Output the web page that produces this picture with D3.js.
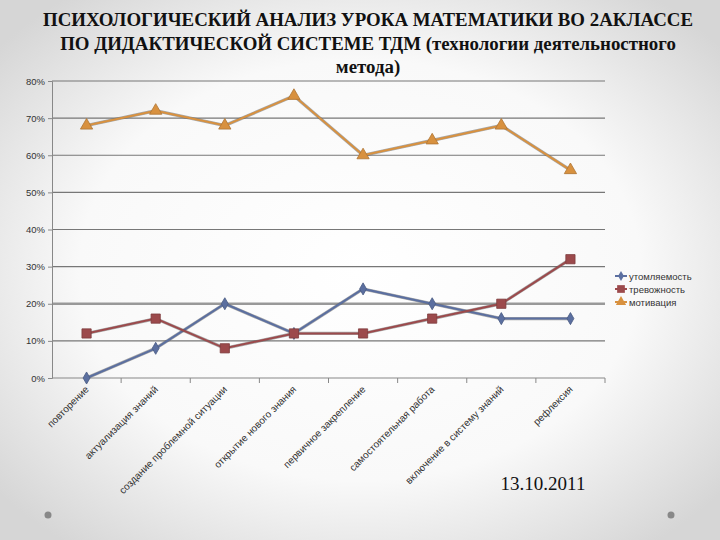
<!DOCTYPE html>
<html>
<head>
<meta charset="utf-8">
<script src="https://cdn.jsdelivr.net/npm/d3@7"></script>
<style>
  body { margin: 0; }
  svg { display: block; }
  .serif { font-family: "Liberation Serif", "DejaVu Serif", "Noto Serif", serif; }
  .sans { font-family: "Liberation Sans", Arial, sans-serif; }
</style>
</head>
<body>
<div id="chart"></div>
<script>
// data
var categories = ["повторение", "актуализация знаний", "создание проблемной ситуации",
                  "открытие нового знания", "первичное закрепление", "самостоятельная работа",
                  "включение в систему знаний", "рефлексия"];
var seriesNames = ["утомляемость", "тревожность", "мотивация"];
var fatigue = [0, 8, 20, 12, 24, 20, 16, 16];
var anxiety = [12, 16, 8, 12, 12, 16, 20, 32];
var motivation = [68, 72, 68, 76, 60, 64, 68, 56];
var yTicks = [0, 10, 20, 30, 40, 50, 60, 70, 80];
var titleLines = ["ПСИХОЛОГИЧЕСКИЙ АНАЛИЗ УРОКА МАТЕМАТИКИ ВО 2АКЛАССЕ",
                  "ПО ДИДАКТИЧЕСКОЙ СИСТЕМЕ ТДМ (технологии деятельностного",
                  "метода)"];

var W = 720, H = 540;
var margin = {top: 81, left: 52, right: 115, bottom: 162};

var svg = d3.select("#chart").append("svg")
    .attr("width", W).attr("height", H);

// slide background: white centre fading to grey at edges
var defs = svg.append("defs");
var grad = defs.append("radialGradient").attr("id", "bg")
    .attr("cx", "50%").attr("cy", "50%").attr("r", "65%");
grad.append("stop").attr("offset", "0%").attr("stop-color", "#ffffff");
grad.append("stop").attr("offset", "60%").attr("stop-color", "#f9f9f9");
grad.append("stop").attr("offset", "100%").attr("stop-color", "#d6d6d6");
svg.append("rect").attr("width", W).attr("height", H).attr("fill", "url(#bg)");

// title, first line scaled to span about 650px
var title = svg.append("text")
    .attr("class", "serif")
    .attr("text-anchor", "middle")
    .style("font-weight", "bold")
    .style("font-size", "18px")
    .attr("fill", "#111");
var t0 = title.append("tspan").attr("x", 368).attr("y", 26).text(titleLines[0]);
var fs = 18 * 650 / t0.node().getComputedTextLength();
title.style("font-size", fs + "px");
title.append("tspan").attr("x", 368).attr("y", 50).text(titleLines[1]);
title.append("tspan").attr("x", 368).attr("y", 73).text(titleLines[2]);

var width = W - margin.left - margin.right;
var height = H - margin.top - margin.bottom;

var g = svg.append("g").attr("transform", "translate(" + margin.left + "," + margin.top + ")");

var x = d3.scaleBand().domain(categories).range([0, width]);
var y = d3.scaleLinear().domain([0, 80]).range([height, 0]);

// gridlines
g.selectAll(".grid").data(yTicks.slice(1)).enter().append("line")
    .attr("class", "grid")
    .attr("x1", 0).attr("x2", width)
    .attr("y1", function(d) { return y(d); })
    .attr("y2", function(d) { return y(d); })
    .attr("stroke", function(d) { return d == 20 ? "#999" : "#777"; })
    .attr("stroke-width", function(d) { return d == 20 ? 2.5 : 1.2; });

// y axis
var yAxis = g.append("g")
    .call(d3.axisLeft(y).tickValues(yTicks).tickSize(4).tickFormat(function(d) { return d + "%"; }));
yAxis.select(".domain").attr("stroke", "#888");
yAxis.selectAll(".tick line").attr("stroke", "#888");
yAxis.selectAll("text")
    .attr("class", "sans")
    .style("font-size", "9.5px")
    .attr("fill", "#333");

// x axis with ticks at category boundaries
var xAxis = g.append("g").attr("transform", "translate(0," + height + ")");
xAxis.append("line").attr("x1", 0).attr("x2", width).attr("stroke", "#888").attr("stroke-width", 1.2);
xAxis.selectAll(".xt").data(categories).enter().append("line")
    .attr("class", "xt")
    .attr("x1", function(d) { return x(d) + x.bandwidth(); })
    .attr("x2", function(d) { return x(d) + x.bandwidth(); })
    .attr("y1", 0).attr("y2", 5).attr("stroke", "#888");
xAxis.selectAll(".xl").data(categories).enter().append("text")
    .attr("class", "xl sans")
    .attr("transform", function(d) {
        return "translate(" + (x(d) + x.bandwidth() / 2 + 3) + ",12) rotate(-45)";
    })
    .attr("text-anchor", "end")
    .style("font-size", "10px")
    .attr("fill", "#333")
    .text(function(d) { return d; });

var colors = ["#5b6fa0", "#9c4a4c", "#d8913f"];
var allSeries = [fatigue, anxiety, motivation];
var symbols = [d3.symbolDiamond, d3.symbolSquare, d3.symbolTriangle];
var sizes = [42, 85, 65];

var line = d3.line()
    .x(function(d, i) { return x(categories[i]) + x.bandwidth() / 2; })
    .y(function(d) { return y(d); });

allSeries.forEach(function(values, s) {
    g.append("path")
        .datum(values)
        .attr("d", line)
        .attr("fill", "none")
        .attr("stroke", "#555")
        .attr("stroke-opacity", 0.5)
        .attr("stroke-width", 3.2);
    g.append("path")
        .datum(values)
        .attr("d", line)
        .attr("fill", "none")
        .attr("stroke", colors[s])
        .attr("stroke-width", 2);
    g.selectAll(".m" + s).data(values).enter().append("path")
        .attr("class", "m" + s)
        .attr("transform", function(d, i) {
            return "translate(" + (x(categories[i]) + x.bandwidth() / 2) + "," + y(d) + ")";
        })
        .attr("d", d3.symbol().type(symbols[s]).size(sizes[s]))
        .attr("fill", colors[s])
        .attr("stroke", d3.color(colors[s]).darker(0.6))
        .attr("stroke-width", 0.8);
});

// legend
var legend = svg.append("g").attr("transform", "translate(615,276)");
seriesNames.forEach(function(name, s) {
    var row = legend.append("g").attr("transform", "translate(0," + (s * 13) + ")");
    row.append("line").attr("x1", 0).attr("x2", 12).attr("stroke", colors[s]).attr("stroke-width", 2);
    row.append("path").attr("transform", "translate(6,0)")
        .attr("d", d3.symbol().type(symbols[s]).size(sizes[s] * 0.7))
        .attr("fill", colors[s]);
    row.append("text").attr("x", 14).attr("y", 3.5)
        .attr("class", "sans")
        .style("font-size", "9.5px")
        .attr("fill", "#333")
        .text(name);
});

// date
svg.append("text")
    .attr("class", "serif")
    .attr("x", 543).attr("y", 490)
    .attr("text-anchor", "middle")
    .style("font-size", "19px")
    .attr("fill", "#111")
    .text("13.10.2011");

// slide decoration dots
svg.selectAll(".dot").data([48, 671]).enter().append("circle")
    .attr("class", "dot")
    .attr("cx", function(d) { return d; }).attr("cy", 515).attr("r", 3.5)
    .attr("fill", "#888");
</script>
</body>
</html>
